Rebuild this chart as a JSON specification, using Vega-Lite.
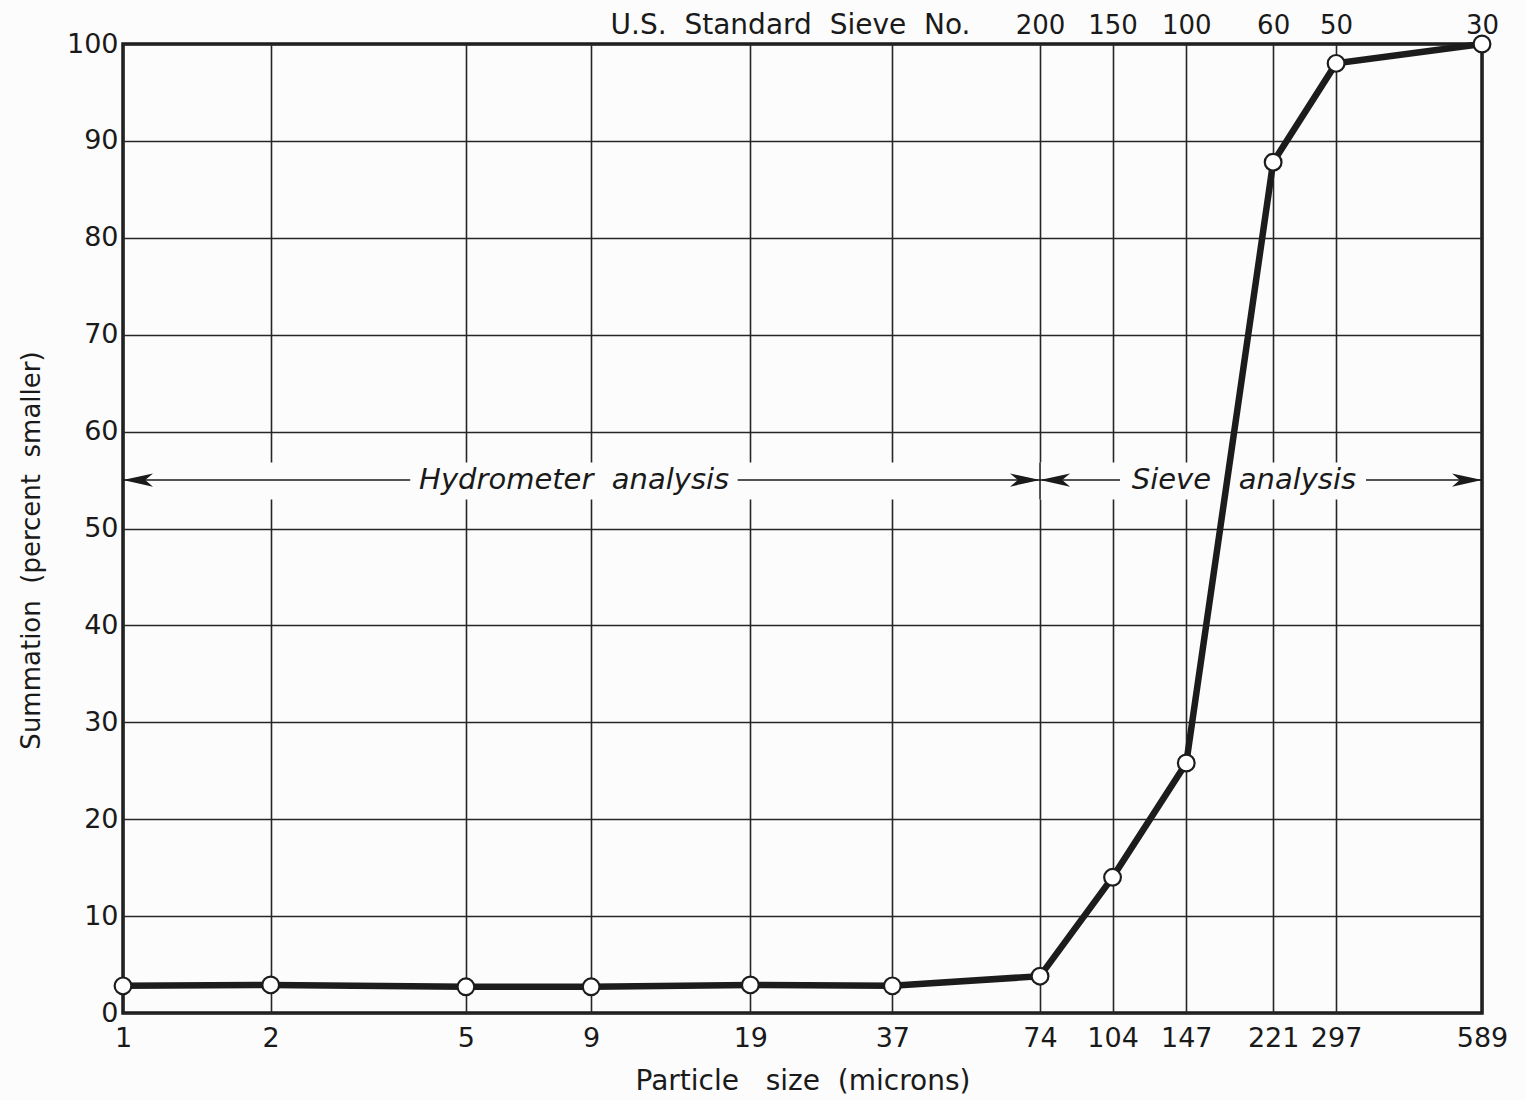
{
  "$schema": "https://vega.github.io/schema/vega-lite/v6.json",
  "width": 1359,
  "height": 969,
  "autosize": {"type": "none"},
  "padding": {"left": 123, "top": 44, "right": 44, "bottom": 87},
  "background": "#fcfcfc",
  "config": {
    "view": {"stroke": "#1a1a1a", "strokeWidth": 3.5},
    "font": "DejaVu Sans",
    "axis": {
      "domain": false,
      "ticks": false,
      "tickSize": 0,
      "labelFont": "DejaVu Sans",
      "labelFontSize": 27,
      "labelColor": "#1a1a1a",
      "titleFont": "DejaVu Sans",
      "titleFontWeight": "normal",
      "titleFontSize": 28,
      "titleColor": "#1a1a1a",
      "gridColor": "#262626",
      "gridWidth": 1.6,
      "gridOpacity": 1
    }
  },
  "datasets": {
    "curve": [
      {"size": 1, "pct": 2.8},
      {"size": 2, "pct": 2.9},
      {"size": 5, "pct": 2.7},
      {"size": 9, "pct": 2.7},
      {"size": 19, "pct": 2.9},
      {"size": 37, "pct": 2.8},
      {"size": 74, "pct": 3.8},
      {"size": 104, "pct": 14},
      {"size": 147, "pct": 25.8},
      {"size": 221, "pct": 87.8},
      {"size": 297, "pct": 98},
      {"size": 589, "pct": 100}
    ],
    "one": [{}]
  },
  "layer": [
    {
      "data": {"name": "one"},
      "mark": {"type": "rect", "color": "#fcfcfc"},
      "encoding": {
        "x": {"datum": 1.012, "type": "quantitative", "axis": null},
        "x2": {"datum": 580},
        "y": {"datum": 53, "type": "quantitative"},
        "y2": {"datum": 56.8}
      }
    },
    {
      "data": {"name": "one"},
      "mark": {"type": "rule", "color": "#262626", "strokeWidth": 1.6},
      "encoding": {
        "x": {"datum": 74, "type": "quantitative", "axis": null},
        "y": {"datum": 53, "type": "quantitative"},
        "y2": {"datum": 56.8}
      }
    },
    {
      "data": {"name": "one"},
      "mark": {"type": "rule", "color": "#1a1a1a", "strokeWidth": 1.5},
      "encoding": {
        "x": {"datum": 1, "type": "quantitative", "axis": null},
        "x2": {"datum": 3.85},
        "y": {"datum": 55, "type": "quantitative"}
      }
    },
    {
      "data": {"name": "one"},
      "mark": {"type": "rule", "color": "#1a1a1a", "strokeWidth": 1.5},
      "encoding": {
        "x": {"datum": 17.9, "type": "quantitative", "axis": null},
        "x2": {"datum": 74},
        "y": {"datum": 55, "type": "quantitative"}
      }
    },
    {
      "data": {"name": "one"},
      "mark": {"type": "rule", "color": "#1a1a1a", "strokeWidth": 1.5},
      "encoding": {
        "x": {"datum": 74, "type": "quantitative", "axis": null},
        "x2": {"datum": 107.7},
        "y": {"datum": 55, "type": "quantitative"}
      }
    },
    {
      "data": {"name": "one"},
      "mark": {"type": "rule", "color": "#1a1a1a", "strokeWidth": 1.5},
      "encoding": {
        "x": {"datum": 341.8, "type": "quantitative", "axis": null},
        "x2": {"datum": 589},
        "y": {"datum": 55, "type": "quantitative"}
      }
    },
    {
      "data": {"name": "one"},
      "mark": {"type": "point", "filled": true, "color": "#1a1a1a", "opacity": 1, "size": 3600, "shape": "M0,0L1,-0.22L0.74,0L1,0.22Z"},
      "encoding": {
        "x": {"datum": 1, "type": "quantitative", "axis": null},
        "y": {"datum": 55, "type": "quantitative"}
      }
    },
    {
      "data": {"name": "one"},
      "mark": {"type": "point", "filled": true, "color": "#1a1a1a", "opacity": 1, "size": 3600, "shape": "M0,0L1,-0.22L0.74,0L1,0.22Z"},
      "encoding": {
        "x": {"datum": 74, "type": "quantitative", "axis": null},
        "y": {"datum": 55, "type": "quantitative"}
      }
    },
    {
      "data": {"name": "one"},
      "mark": {"type": "point", "filled": true, "color": "#1a1a1a", "opacity": 1, "size": 3600, "shape": "M0,0L-1,-0.22L-0.74,0L-1,0.22Z"},
      "encoding": {
        "x": {"datum": 74, "type": "quantitative", "axis": null},
        "y": {"datum": 55, "type": "quantitative"}
      }
    },
    {
      "data": {"name": "one"},
      "mark": {"type": "point", "filled": true, "color": "#1a1a1a", "opacity": 1, "size": 3600, "shape": "M0,0L-1,-0.22L-0.74,0L-1,0.22Z"},
      "encoding": {
        "x": {"datum": 589, "type": "quantitative", "axis": null},
        "y": {"datum": 55, "type": "quantitative"}
      }
    },
    {
      "data": {"name": "one"},
      "mark": {"type": "text", "font": "DejaVu Sans", "fontStyle": "italic", "fontSize": 29, "color": "#1a1a1a", "align": "center", "baseline": "middle"},
      "encoding": {
        "x": {"datum": 8.31, "type": "quantitative", "axis": null},
        "y": {"datum": 55, "type": "quantitative"},
        "text": {"value": "Hydrometer\u00a0 analysis"}
      }
    },
    {
      "data": {"name": "one"},
      "mark": {"type": "text", "font": "DejaVu Sans", "fontStyle": "italic", "fontSize": 29, "color": "#1a1a1a", "align": "center", "baseline": "middle"},
      "encoding": {
        "x": {"datum": 192.7, "type": "quantitative", "axis": null},
        "y": {"datum": 55, "type": "quantitative"},
        "text": {"value": "Sieve\u00a0 \u00a0analysis"}
      }
    },
    {
      "data": {"name": "curve"},
      "mark": {"type": "line", "color": "#1c1c1c", "strokeWidth": 6.5},
      "encoding": {
        "x": {
          "field": "size",
          "type": "quantitative",
          "scale": {"type": "log", "domain": [1, 589], "nice": false},
          "axis": {
            "orient": "bottom",
            "values": [1, 2, 5, 9, 19, 37, 74, 104, 147, 221, 297, 589],
            "format": "d",
            "grid": true,
            "labelPadding": 12,
            "labelFlush": false,
            "labelOverlap": false,
            "labelBound": false,
            "title": "Particle\u00a0 \u00a0size\u00a0 (microns)",
            "titlePadding": 16
          }
        },
        "y": {
          "field": "pct",
          "type": "quantitative",
          "scale": {"domain": [0, 100], "nice": false, "zero": true},
          "axis": {
            "values": [0, 10, 20, 30, 40, 50, 60, 70, 80, 90, 100],
            "grid": true,
            "labelPadding": 5,
            "labelFlush": false,
            "labelOverlap": false,
            "title": "Summation\u00a0 (percent\u00a0 smaller)",
            "titleFontSize": 26,
            "titlePadding": 22,
            "titleY": 506
          }
        }
      }
    },
    {
      "data": {"name": "curve"},
      "mark": {"type": "point", "shape": "circle", "filled": true, "fill": "#ffffff", "stroke": "#1c1c1c", "strokeWidth": 2.2, "size": 280, "opacity": 1},
      "encoding": {
        "x": {
          "field": "size",
          "type": "quantitative",
          "axis": {
            "orient": "top",
            "values": [74, 104, 147, 221, 297, 589],
            "labelExpr": "datum.value == 74 ? '200' : datum.value == 104 ? '150' : datum.value == 147 ? '100' : datum.value == 221 ? '60' : datum.value == 297 ? '50' : '30'",
            "grid": false,
            "labelFontSize": 26,
            "labelBaseline": "alphabetic",
            "labelPadding": 11,
            "labelFlush": false,
            "labelOverlap": false,
            "labelBound": false,
            "title": "U.S.\u00a0 Standard\u00a0 Sieve\u00a0 No.",
            "titleX": 847,
            "titleY": -11,
            "titleAlign": "right",
            "titleBaseline": "alphabetic",
            "titleAngle": 0
          }
        },
        "y": {"field": "pct", "type": "quantitative"}
      }
    }
  ],
  "resolve": {"scale": {"x": "shared", "y": "shared"}, "axis": {"x": "independent"}}
}
